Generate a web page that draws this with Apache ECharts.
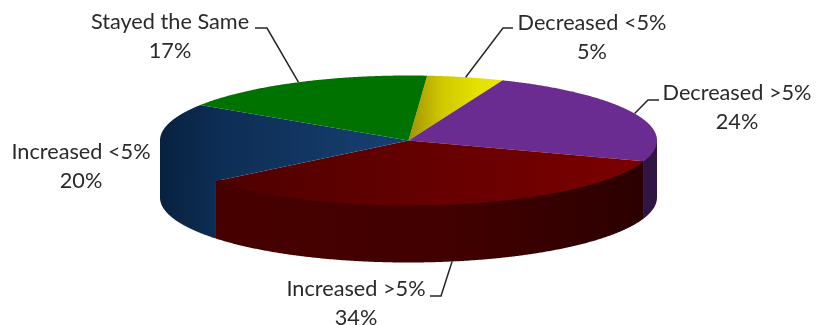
<!DOCTYPE html>
<html>
<head>
<meta charset="utf-8">
<style>html,body{margin:0;padding:0;background:#fff}#chart{width:825px;height:325px}</style>
<script src="https://cdn.jsdelivr.net/npm/echarts@6/dist/echarts.min.js"></script>
</head>
<body>
<div id="chart"></div>
<script>
// Survey shares, clockwise from the top of the pie
const categories = ['Decreased <5%', 'Decreased >5%', 'Increased >5%', 'Increased <5%', 'Stayed the Same'];
const shares = [5, 24, 34, 20, 17];

// Pie geometry: a tilted disc with a visible rim
const disc = { cx: 408.5, cy: 140.5, rx: 248.5, ry: 65, depth: 57, startAngle: 85.7 };
const font = '21.7px Lato, Carlito, Calibri, sans-serif';
const textColor = '#2a2a2a';
const lineColor = '#262626';

const grad = (stops) => new echarts.graphic.LinearGradient(0, 0, 1, 0,
  stops.map(([offset, color]) => ({ offset, color })));

const topFills = [
  grad([[0, '#a39300'], [0.35, '#cfc800'], [0.75, '#e6e300'], [1, '#e6e300']]),
  '#6a2c91',
  grad([[0, '#4f0000'], [1, '#7c0000']]),
  // The blue top's box starts at the disc's left edge, and its wall shares these colours
  grad([[0, '#08213f'], [0.23, '#0d2d54'], [1, '#174172']]),
  '#007200'
];
const wallFills = [
  null,
  '#2f1444',
  grad([[0, '#470000'], [0.55, '#420000'], [1, '#2c0000']]),
  grad([[0, '#08213f'], [1, '#0d2d54']]),
  null
];

// Where each label sits, and the elbow of its leader line (if it has one)
const labelSpots = [
  { x: 592, y: 23, elbow: [[513, 28], [503, 28]] },
  { x: 737, y: 93, elbow: [[659, 100], [648, 100]] },
  { x: 356, y: 289, elbow: [[430, 296], [441, 296]], onRim: true },
  { x: 81, y: 152 },
  { x: 170, y: 22, elbow: [[255, 28], [267, 28]] }
];

const total = shares.reduce((a, b) => a + b, 0);
const rad = (d) => d * Math.PI / 180;
const onTop = (deg, drop = 0) => [
  disc.cx + disc.rx * Math.cos(rad(deg)),
  disc.cy - disc.ry * Math.sin(rad(deg)) + drop
];
const arc = (from, to, drop = 0) => {
  const pts = [];
  const n = Math.max(2, Math.ceil(Math.abs(from - to) * 3));
  for (let i = 0; i <= n; i++) pts.push(onTop(from + (to - from) * i / n, drop));
  return pts;
};

function renderSlice(params, api) {
  const i = params.dataIndex;
  const before = shares.slice(0, i).reduce((a, b) => a + b, 0);
  const value = api.value(1);
  const a0 = disc.startAngle - before / total * 360;
  const a1 = a0 - value / total * 360;
  const children = [];

  // Outer wall: only the part of the rim that faces the viewer.
  // Its upper edge runs a little under the top face so no background shows along the seam.
  const w0 = Math.min(a0, 0), w1 = Math.max(a1, -180);
  if (wallFills[i] && w0 > w1) {
    children.push({
      type: 'polygon', z2: 1,
      shape: { points: arc(w0, w1, -3).concat(arc(w1, w0, disc.depth)) },
      style: { fill: wallFills[i] }
    });
  }

  // Top face
  children.push({
    type: 'polygon', z2: 2,
    shape: { points: [[disc.cx, disc.cy]].concat(arc(a0, a1)) },
    style: { fill: topFills[i] }
  });

  // Leader line from the label to the slice's mid-angle on the edge
  const spot = labelSpots[i];
  if (spot.elbow) {
    const mid = (a0 + a1) / 2;
    children.push({
      type: 'polyline', z2: 3,
      shape: { points: spot.elbow.concat([onTop(mid, spot.onRim ? disc.depth : 0)]) },
      style: { stroke: lineColor, lineWidth: 1.5, fill: null }
    });
  }

  // Category and percentage, with the first line centred on the spot's y
  const pct = Math.round(value / total * 100);
  children.push({
    type: 'text', z2: 4,
    style: {
      x: spot.x, y: spot.y + 14.5, text: categories[i] + '\n' + pct + '%',
      font, fill: textColor, align: 'center', verticalAlign: 'middle', lineHeight: 29
    }
  });

  return { type: 'group', children };
}

const chart = echarts.init(document.getElementById('chart'), null, { renderer: 'canvas' });
chart.setOption({
  animation: false,
  backgroundColor: '#ffffff',
  series: [{
    type: 'custom',
    coordinateSystem: 'none',
    renderItem: renderSlice,
    data: categories.map((name, i) => ({ name, value: [i, shares[i]] })),
    silent: true,
    clip: false
  }]
});
</script>
</body>
</html>
